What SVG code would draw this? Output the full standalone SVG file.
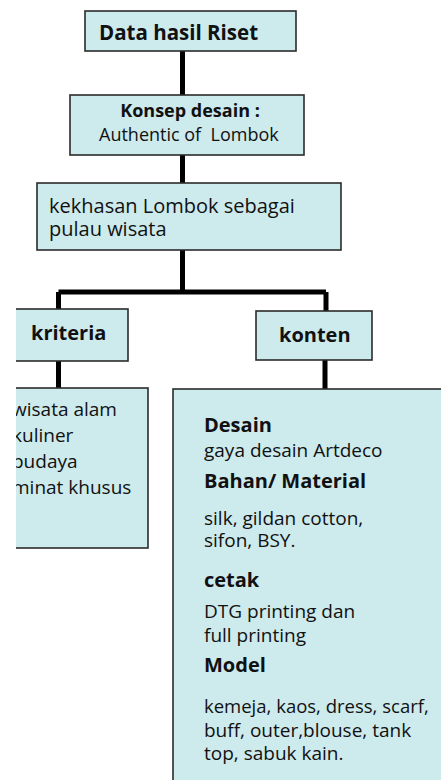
<svg xmlns="http://www.w3.org/2000/svg" width="441" height="780" viewBox="0 0 441 780">
<style>
.box{fill:#cdeaed;stroke:#2b2b2b;stroke-width:1.6}
.c{fill:none;stroke:#000;stroke-width:5}
text{font-family:"Open Sans","Noto Sans",sans-serif;fill:#111}
.b{font-weight:bold;font-size:20px}
.r{font-size:19px}
</style>
<defs><clipPath id="clip"><rect x="16" y="0" width="425" height="780"/></clipPath></defs>
<rect width="441" height="780" fill="#fff"/>
<g id="connectors">
<path class="c" d="M182.5 51V95M182.5 155V183M182.5 250V292M58.5 292H326M58.5 292V309M326 292V311M58.5 361V388M325 360V389"/>
</g>
<g id="n1"><rect class="box" x="85" y="11" width="211" height="40"/><text class="b" x="99" y="40" style="font-size:20.5px">Data hasil Riset</text></g>
<g id="n2"><rect class="box" x="70" y="95" width="234" height="60"/><text class="b" x="190" y="117" text-anchor="middle" style="font-size:18px">Konsep desain :</text><text x="99" y="141" style="font-size:18px" xml:space="preserve">Authentic of  Lombok</text></g>
<g id="n3"><rect class="box" x="37" y="183" width="304" height="67"/><text x="49" y="213" style="font-size:20px">kekhasan Lombok sebagai</text><text x="49" y="236" style="font-size:20px">pulau wisata</text></g>
<g clip-path="url(#clip)">
<g id="n4"><rect class="box" x="10" y="309" width="118" height="52"/><text class="b" x="31" y="340">kriteria</text></g>
<g id="n6"><rect class="box" x="10" y="388" width="138" height="160"/>
<text class="r" x="12" y="416">wisata alam</text><text class="r" x="12" y="442">kuliner</text><text class="r" x="12" y="468">budaya</text><text class="r" x="12" y="494">minat khusus</text></g>
</g>
<g id="n5"><rect class="box" x="256" y="311" width="116" height="49"/><text class="b" x="279" y="342">konten</text></g>
<g id="n7"><rect class="box" x="173" y="389" width="280" height="400"/>
<text class="b" x="204" y="432">Desain</text>
<text class="r" x="204" y="457">gaya desain Artdeco</text>
<text class="b" x="204" y="488">Bahan/ Material</text>
<text class="r" x="204" y="525">silk, gildan cotton,</text>
<text class="r" x="204" y="547">sifon, BSY.</text>
<text class="b" x="204" y="587">cetak</text>
<text class="r" x="204" y="618">DTG printing dan</text>
<text class="r" x="204" y="642">full printing</text>
<text class="b" x="204" y="672">Model</text>
<text class="r" x="204" y="713" style="font-size:18.5px">kemeja, kaos, dress, scarf,</text>
<text class="r" x="204" y="737">buff, outer,blouse, tank</text>
<text class="r" x="204" y="760">top, sabuk kain.</text>
</g>
</svg>
